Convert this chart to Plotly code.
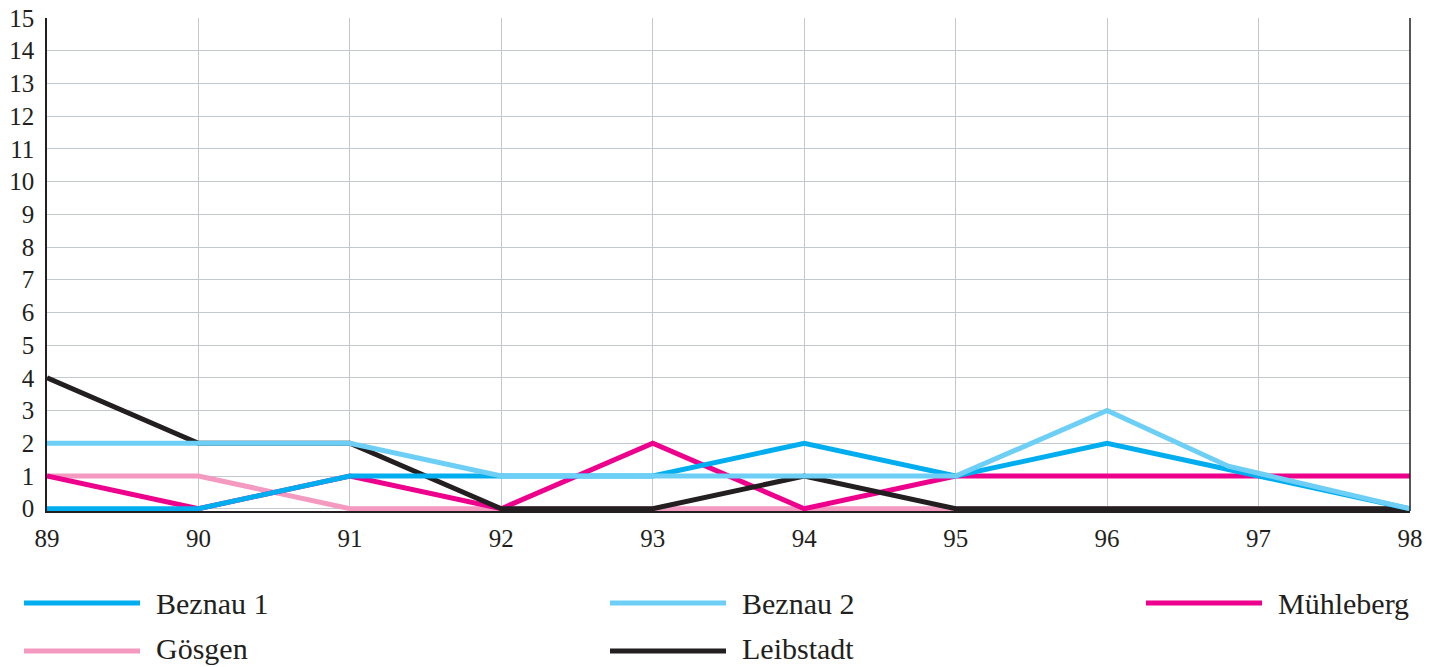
import plotly.graph_objects as go

years = [89, 90, 91, 92, 93, 94, 95, 96, 97, 98]
beznau1 = [0, 0, 1, 1, 1, 2, 1, 2, 1, 0]
beznau2_x = [89, 90, 91, 92, 93, 94, 95, 96, 96.8, 98]
beznau2 = [2, 2, 2, 1, 1, 1, 1, 3, 1.3, 0]
muehleberg = [1, 0, 1, 0, 2, 0, 1, 1, 1, 1]
goesgen = [1, 1, 0, 0, 0, 0, 0, 0, 0, 0]
leibstadt = [4, 2, 2, 0, 0, 1, 0, 0, 0, 0]

names = ["Beznau 1", "Beznau 2", "Mühleberg", "Gösgen", "Leibstadt"]
colors = ["#00aeef", "#6dcff6", "#ec008c", "#f49ac1", "#231f20"]
y_ticks = list(range(0, 16))

series = {
    "Beznau 1": (years, beznau1),
    "Beznau 2": (beznau2_x, beznau2),
    "Mühleberg": (years, muehleberg),
    "Gösgen": (years, goesgen),
    "Leibstadt": (years, leibstadt),
}
draw_order = ["Gösgen", "Mühleberg", "Leibstadt", "Beznau 1", "Beznau 2"]

W, H = 1429, 667
ml, mt = 47, 18
plot_right, plot_bottom = 1410, 511
mr, mb = W - plot_right, H - plot_bottom
pw, ph = W - ml - mr, H - mt - mb

fig = go.Figure()
for n in draw_order:
    x, y = series[n]
    fig.add_trace(go.Scatter(x=x, y=y, mode="lines", name=n, showlegend=False,
                             line=dict(color=colors[names.index(n)], width=5)))

font = "Liberation Serif"

def px_x(p):
    return (p - ml) / pw

def px_y(p):
    return (plot_bottom - p) / ph

# manual legend (3 columns, 2 rows), positions in screen pixels
legend_pos = [(24, 603), (610, 603), (1146, 603), (24, 651), (610, 651)]
shapes = []
annotations = []
for (lx, ly), n, c in zip(legend_pos, names, colors):
    shapes.append(dict(type="line", xref="paper", yref="paper",
                       x0=px_x(lx), x1=px_x(lx + 116), y0=px_y(ly), y1=px_y(ly),
                       line=dict(color=c, width=5)))
    annotations.append(dict(xref="paper", yref="paper", x=px_x(lx + 130), y=px_y(min(ly, 648)),
                            text=n, showarrow=False, xanchor="left", yanchor="middle",
                            font=dict(family=font, size=30, color="#231f20")))
# right border
shapes.append(dict(type="line", xref="paper", yref="paper", x0=1, x1=1, y0=0, y1=1,
                   line=dict(color="#231f20", width=1.5)))

fig.update_layout(
    width=W, height=H,
    margin=dict(l=ml, r=mr, t=mt, b=mb, autoexpand=False),
    paper_bgcolor="white", plot_bgcolor="white",
    shapes=shapes, annotations=annotations,
    xaxis=dict(range=[89, 98], tickvals=years, ticktext=[str(v) for v in years],
               showgrid=True, gridcolor="#c3c8ce", gridwidth=1, automargin=False,
               showline=True, linecolor="#231f20", linewidth=1.5,
               ticks="", ticklabelstandoff=4, zeroline=False,
               tickfont=dict(family=font, size=25, color="#231f20")),
    yaxis=dict(range=[-0.07, 15], tickvals=y_ticks, automargin=False,
               showgrid=True, gridcolor="#c3c8ce", gridwidth=1,
               showline=True, linecolor="#231f20", linewidth=1.5,
               ticks="", ticklabelstandoff=6, zeroline=False,
               tickfont=dict(family=font, size=25, color="#231f20")),
)

fig.write_html("out.html", config={"displayModeBar": False},
               post_script="document.body.style.margin='0';document.body.style.overflow='hidden';")
